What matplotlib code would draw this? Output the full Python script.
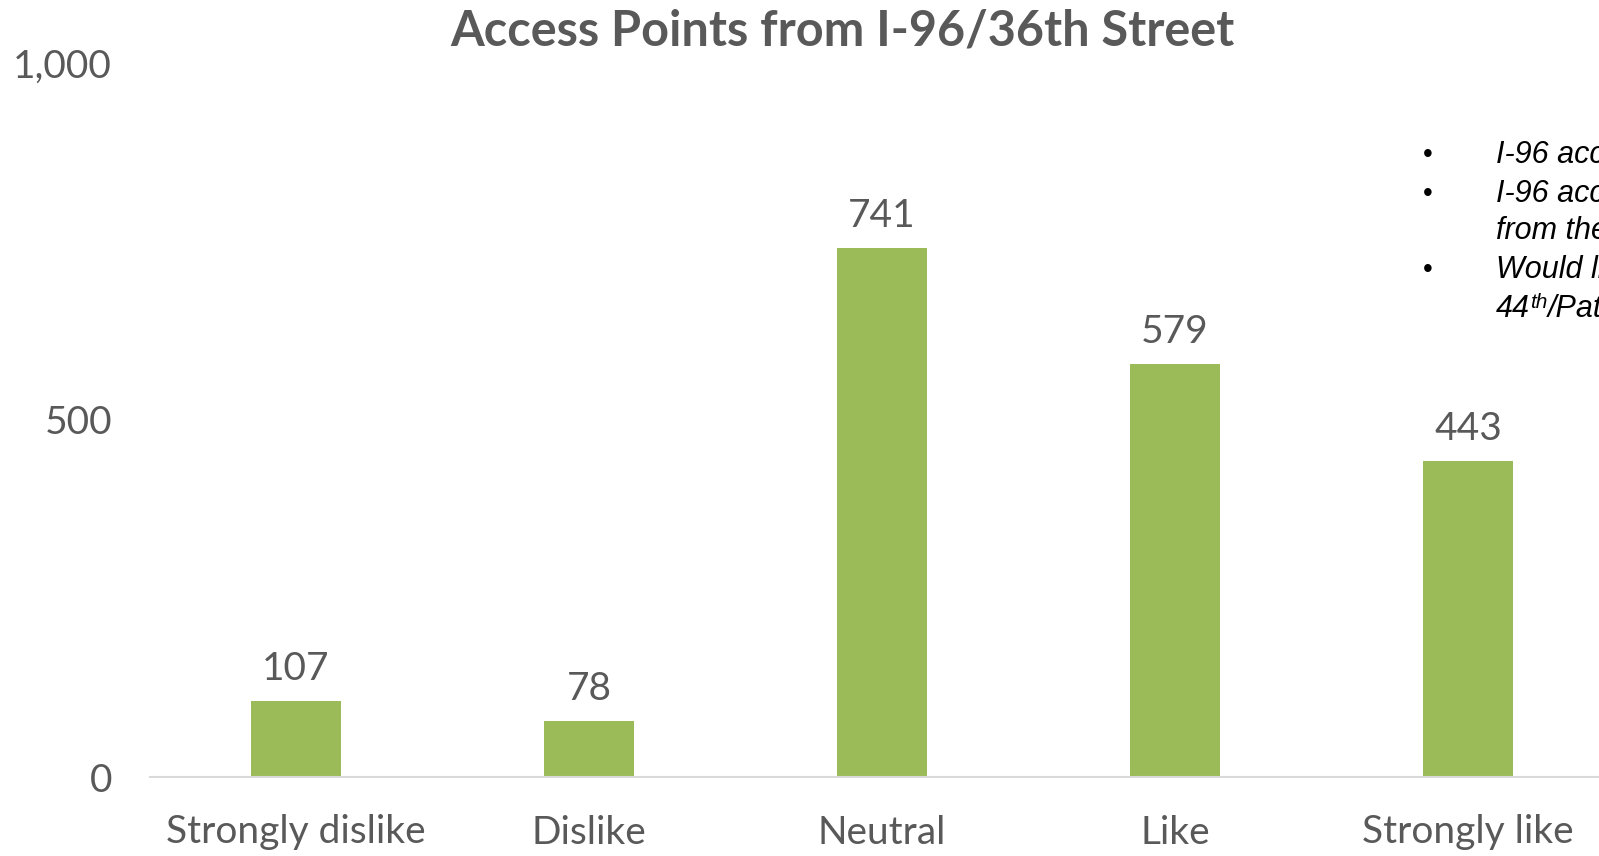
import matplotlib
matplotlib.use("Agg")
import matplotlib.pyplot as plt
from matplotlib.ticker import FuncFormatter

categories = ["Strongly dislike", "Dislike", "Neutral", "Like", "Strongly like"]
counts = [107, 78, 741, 579, 443]
y_ticks = [0, 500, 1000]
notes = [
    ("I-96 access is important", None),
    ("I-96 access would reduce traffic", None),
    ("from the neighborhood streets", None),
    ("Would like to see access at", None),
    ("44", "th", "/Patterson"),
]

text_grey = "#595959"
bar_green = "#9BBB59"
plt.rcParams["font.family"] = ["Lato", "DejaVu Sans"]

W, H = 1599, 856
fig = plt.figure(figsize=(W / 100, H / 100), dpi=100)
# axes extends past the right edge, like the cropped slide
ax = fig.add_axes([149.5 / W, 1 - 777 / H, 1465 / W, (777 - 63) / H])

x = range(len(categories))
bars = ax.bar(x, counts, width=0.31, color=bar_green, zorder=2)
for b, v in zip(bars, counts):
    ax.annotate(str(v), (b.get_x() + b.get_width() / 2, v), xytext=(0, 10),
                textcoords="offset points", ha="center", va="bottom",
                fontsize=28, color=text_grey)

ax.set_xlim(-0.5, len(categories) - 0.5)
ax.set_ylim(0, 1000)
ax.set_yticks(y_ticks)
ax.yaxis.set_major_formatter(FuncFormatter(lambda v, p: f"{v:,.0f}"))
ax.set_xticks(list(x))
ax.set_xticklabels(categories)
ax.tick_params(axis="x", length=0, pad=27, labelsize=28, labelcolor=text_grey)
ax.tick_params(axis="y", length=0, pad=27, labelsize=28, labelcolor=text_grey)
for s in ["top", "right", "left"]:
    ax.spines[s].set_visible(False)
ax.spines["bottom"].set_color("#D9D9D9")
ax.spines["bottom"].set_linewidth(1.5)

fig.text(842 / W, 1 - 31 / H, "Access Points from I-96/36th Street",
         ha="center", va="center", fontsize=35, fontweight="bold", color=text_grey)

# side notes (cut off at the right edge, as in the slide)
line_y = [155, 194, 231, 270, 309]
bullet_lines = {0, 1, 3}
renderer = fig.canvas.get_renderer()
note_kw = dict(va="center", family="Liberation Sans", style="italic", color="black")
for i, (yy, note) in enumerate(zip(line_y, notes)):
    yf = 1 - yy / H
    if i in bullet_lines:
        fig.text(1428 / W, yf, "•", ha="center", va="center", fontsize=20,
                 family="Liberation Sans", color="black")
    if len(note) == 3 and note[1]:
        t1 = fig.text(1496 / W, yf, note[0], ha="left", fontsize=22, **note_kw)
        bb = t1.get_window_extent(renderer)
        t2 = fig.text(bb.x1 / W, yf + 7 / H, note[1], ha="left", fontsize=15, **note_kw)
        bb2 = t2.get_window_extent(renderer)
        fig.text(bb2.x1 / W, yf, note[2], ha="left", fontsize=22, **note_kw)
    else:
        fig.text(1496 / W, yf, note[0], ha="left", fontsize=22, **note_kw)

fig.savefig("out.png", dpi=100)
